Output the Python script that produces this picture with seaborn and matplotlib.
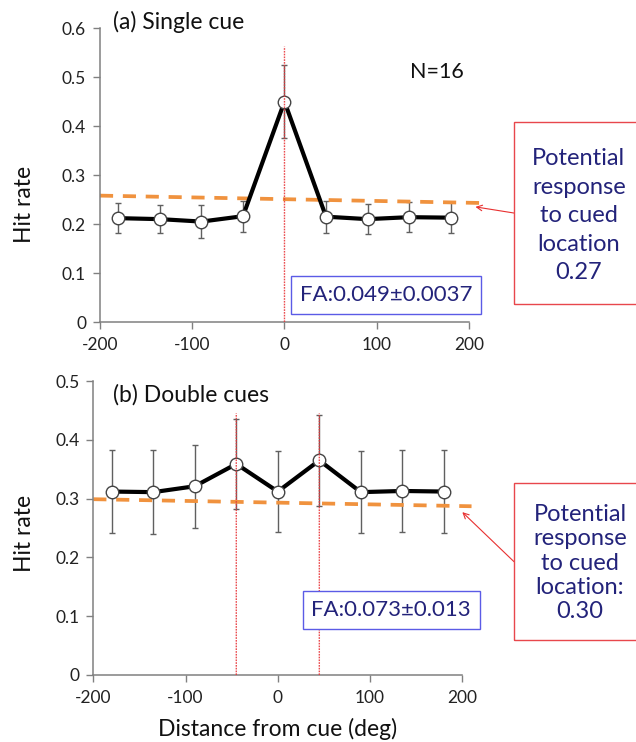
import matplotlib
matplotlib.use('Agg')
import matplotlib.pyplot as plt
from matplotlib.patches import Rectangle
import seaborn as sns

sns.set_style('ticks')
plt.rcParams['font.family'] = ['Lato', 'DejaVu Sans']
plt.rcParams['axes.unicode_minus'] = False

# ── data ─────────────────────────────────────────────
angles = [-180, -135, -90, -45, 0, 45, 90, 135, 180]

single_hit = [0.212, 0.210, 0.205, 0.216, 0.450, 0.215, 0.210, 0.214, 0.213]
single_err = [0.031, 0.029, 0.033, 0.032, 0.075, 0.033, 0.030, 0.031, 0.031]
single_cues = [0]
single_pot_x = [-200, 212]
single_pot_y = [0.258, 0.243]

double_hit = [0.312, 0.311, 0.321, 0.359, 0.312, 0.365, 0.311, 0.313, 0.312]
double_err = [0.071, 0.072, 0.071, 0.076, 0.069, 0.077, 0.070, 0.070, 0.071]
double_cues = [-45, 45]
double_pot_x = [-200, 210]
double_pot_y = [0.299, 0.287]

x_ticks = [-200, -100, 0, 100, 200]

NAVY = '#23237A'
ORANGE = '#F0923E'
RED = '#E8474C'
FA_EDGE = '#5B5BE6'

fig = plt.figure(figsize=(6.36, 7.42), dpi=100)
ax_a = fig.add_axes([0.1572, 0.5660, 0.5802, 0.3962])
ax_b = fig.add_axes([0.1467, 0.0903, 0.5802, 0.3962])


def draw_panel(ax, hit, err, cues, cue_top, pot_x, pot_y, ymax):
    ax.errorbar(angles, hit, yerr=err, fmt='none', ecolor='#606060',
                elinewidth=1, capsize=2.5, capthick=1, zorder=2)
    ax.plot(pot_x, pot_y, color=ORANGE, lw=2.7, linestyle=(0, (3.5, 2.6)),
            clip_on=False, zorder=2.5)
    sns.lineplot(x=angles, y=hit, ax=ax, color='black', lw=3, marker='o',
                 markersize=9, markerfacecolor='white',
                 markeredgecolor='#444444', markeredgewidth=1, zorder=3)
    for c in cues:
        ax.plot([c, c], [0, cue_top], color='#E8383C', lw=1.0,
                linestyle=(0, (1.2, 0.8)), alpha=0.9, zorder=5,
                snap=False)
    ax.set_xlim(-200, 200)
    ax.set_ylim(0, ymax)
    n = int(round(ymax * 10))
    ax.set_xticks(x_ticks)
    ax.set_yticks([round(0.1 * i, 1) for i in range(n + 1)])
    ax.set_yticklabels(['0'] + [f'{0.1 * i:.1f}' for i in range(1, n + 1)])
    ax.tick_params(labelsize=12.5, length=5, width=1, color='#808080',
                   labelcolor='#222222')
    ax.tick_params(axis='x', pad=6)
    ax.tick_params(axis='y', pad=5)
    for s in ['top', 'right']:
        ax.spines[s].set_visible(False)
    for s in ['left', 'bottom']:
        ax.spines[s].set_color('#808080')
        ax.spines[s].set_linewidth(1.1)
    ax.set_ylabel('Hit rate', fontsize=16.5, color='#111111')


draw_panel(ax_a, single_hit, single_err, single_cues, 0.562,
           single_pot_x, single_pot_y, 0.6)
draw_panel(ax_b, double_hit, double_err, double_cues, 0.445,
           double_pot_x, double_pot_y, 0.5)

ax_a.yaxis.set_label_coords(-0.175, 0.40)
ax_b.yaxis.set_label_coords(-0.157, 0.483)
ax_a.set_xlabel('')
ax_b.set_xlabel('Distance from cue (deg)', fontsize=16.5, color='#111111')
ax_b.xaxis.set_label_coords(0.5, -0.145)

# titles
ax_a.text(0.035, 1.02, '(a) Single cue', transform=ax_a.transAxes,
          fontsize=16.5, va='center', ha='left', color='#111111')
ax_b.text(0.054, 0.952, '(b) Double cues', transform=ax_b.transAxes,
          fontsize=16.5, va='center', ha='left', color='#111111')

ax_a.text(165, 0.51, 'N=16', fontsize=15.5, ha='center', va='center',
          color='#111111')

# FA boxes
fa_box = dict(boxstyle='square,pad=0.4', fc='white', ec=FA_EDGE, lw=1)
ax_a.text(110, 0.055, 'FA:0.049±0.0037', fontsize=16, color=NAVY,
          ha='center', va='center', bbox=fa_box, zorder=6)
ax_b.text(123, 0.111, 'FA:0.073±0.013', fontsize=16, color=NAVY,
          ha='center', va='center', bbox=fa_box, zorder=6)

# red call-out boxes
for (y0, h) in [(0.5903, 0.2453), (0.1375, 0.2112)]:
    fig.add_artist(Rectangle((0.8077, y0), 0.2, h, transform=fig.transFigure,
                             fill=False, ec=RED, lw=1))
fig.text(0.910, 0.7094, 'Potential\nresponse\nto cued\nlocation\n0.27',
         fontsize=17, color=NAVY, ha='center', va='center', linespacing=1.44)
fig.text(0.912, 0.2412, 'Potential\nresponse\nto cued\nlocation:\n0.30',
         fontsize=17, color=NAVY, ha='center', va='center', linespacing=1.2)

arrow = dict(arrowstyle='->', color='#E83030', lw=0.8, shrinkA=0, shrinkB=0)
ax_a.annotate('', xy=(207, 0.235), xytext=(0.8082, 0.7129),
              textcoords='figure fraction', arrowprops=arrow,
              annotation_clip=False)
ax_b.annotate('', xy=(200, 0.277), xytext=(0.8082, 0.2430),
              textcoords='figure fraction', arrowprops=arrow,
              annotation_clip=False)

plt.savefig('out.png', dpi=100)
plt.close()
